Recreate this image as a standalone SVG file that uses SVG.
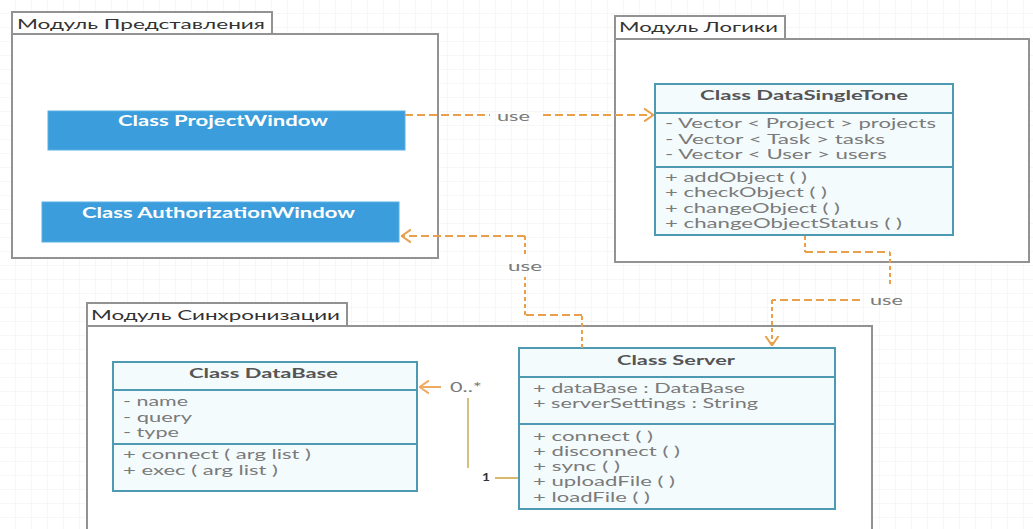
<svg xmlns="http://www.w3.org/2000/svg" width="1033" height="529" viewBox="0 0 1033 529">
<defs>
<pattern id="grid" width="16" height="14" patternUnits="userSpaceOnUse">
<path d="M16,0 V14 M0,14 H16" fill="none" stroke="#efefef" stroke-width="1"/>
</pattern>
<marker id="open" viewBox="0 0 10 14" refX="10" refY="7" markerWidth="10" markerHeight="14" markerUnits="userSpaceOnUse" orient="auto">
<path d="M0,0.5 L9.5,7 L0,13.5" fill="none" stroke="#e8a04a" stroke-width="2"/>
</marker>
<marker id="openAssoc" viewBox="0 0 10 14" refX="10" refY="7" markerWidth="10" markerHeight="14" markerUnits="userSpaceOnUse" orient="auto">
<path d="M0,0.5 L9.5,7 L0,13.5" fill="none" stroke="#efaa62" stroke-width="2"/>
</marker>
</defs>
<style>
.mod{fill:#ffffff;stroke:#929292;stroke-width:2}
.modt{font-family:Lato,"Open Sans","Noto Sans",sans-serif;font-size:14px;fill:#333333}
.blue{fill:#3b9ddb;stroke:#5ab0e4;stroke-width:1}
.bt{font-family:Lato,"Open Sans",sans-serif;font-size:15px;font-weight:bold;fill:#ffffff}
.cls{fill:#f4fbfd;stroke:#4f9ab3;stroke-width:2}
.sep{stroke:#4f9ab3;stroke-width:2}
.ct{font-family:Lato,"Open Sans",sans-serif;font-size:13px;font-weight:bold;fill:#555555}
.at{font-family:Lato,"Open Sans",sans-serif;font-size:13px;fill:#7a7a7a}
.dh{fill:none;stroke:#e8a04a;stroke-width:2;stroke-dasharray:8 4}
.dv{fill:none;stroke:#e8a04a;stroke-width:2;stroke-dasharray:4 3}
.lbl{font-family:Lato,"Open Sans",sans-serif;font-size:13px;fill:#7a7a7a}
.bg{fill:#ffffff}
</style>
<rect x="0" y="0" width="1033" height="529" fill="#ffffff"/>
<rect x="0" y="0" width="1033" height="529" fill="url(#grid)"/>

<g id="module-presentation">
<rect class="mod" x="12" y="34" width="426" height="224"/>
<rect class="mod" x="12" y="12" width="260" height="22"/>
<text class="modt" x="17" y="29" textLength="248" lengthAdjust="spacingAndGlyphs">Модуль Представления</text>
</g>
<g id="module-logic">
<rect class="mod" x="615" y="39" width="414" height="223"/>
<rect class="mod" x="615" y="16" width="170" height="23"/>
<text class="modt" x="619" y="32" textLength="159" lengthAdjust="spacingAndGlyphs">Модуль Логики</text>
</g>
<g id="module-sync">
<rect class="mod" x="87" y="326" width="785" height="220"/>
<rect class="mod" x="87" y="303" width="260" height="23"/>
<text class="modt" x="91" y="320" textLength="249" lengthAdjust="spacingAndGlyphs">Модуль Синхронизации</text>
</g>

<g id="class-projectwindow">
<rect class="blue" x="48" y="111" width="357" height="39"/>
<text class="bt" x="118" y="126" textLength="210" lengthAdjust="spacingAndGlyphs">Class ProjectWindow</text>
</g>
<g id="class-authorizationwindow">
<rect class="blue" x="42" y="202" width="357" height="40"/>
<text class="bt" x="82" y="218" textLength="273" lengthAdjust="spacingAndGlyphs">Class AuthorizationWindow</text>
</g>

<g id="class-datasingletone">
<rect class="cls" x="655" y="84" width="298" height="151"/>
<line class="sep" x1="655" y1="113" x2="953" y2="113"/>
<line class="sep" x1="655" y1="167" x2="953" y2="167"/>
<text class="ct" x="700" y="100" textLength="208" lengthAdjust="spacingAndGlyphs">Class DataSingleTone</text>
<text class="at" x="665" y="128" textLength="271" lengthAdjust="spacingAndGlyphs">- Vector &lt; Project &gt; projects</text>
<text class="at" x="665" y="143.5" textLength="220" lengthAdjust="spacingAndGlyphs">- Vector &lt; Task &gt; tasks</text>
<text class="at" x="665" y="159" textLength="222" lengthAdjust="spacingAndGlyphs">- Vector &lt; User &gt; users</text>
<text class="at" x="665" y="182" textLength="142" lengthAdjust="spacingAndGlyphs">+ addObject ( )</text>
<text class="at" x="665" y="197" textLength="162" lengthAdjust="spacingAndGlyphs">+ checkObject ( )</text>
<text class="at" x="665" y="212.5" textLength="175" lengthAdjust="spacingAndGlyphs">+ changeObject ( )</text>
<text class="at" x="665" y="228" textLength="237" lengthAdjust="spacingAndGlyphs">+ changeObjectStatus ( )</text>
</g>

<g id="class-server">
<rect class="cls" x="519" y="348" width="316" height="161"/>
<line class="sep" x1="519" y1="377" x2="835" y2="377"/>
<line class="sep" x1="519" y1="424" x2="835" y2="424"/>
<text class="ct" x="617" y="364.5" textLength="118" lengthAdjust="spacingAndGlyphs">Class Server</text>
<text class="at" x="533" y="392.5" textLength="212" lengthAdjust="spacingAndGlyphs">+ dataBase : DataBase</text>
<text class="at" x="533" y="407.5" textLength="225" lengthAdjust="spacingAndGlyphs">+ serverSettings : String</text>
<text class="at" x="533" y="440.5" textLength="120" lengthAdjust="spacingAndGlyphs">+ connect (  )</text>
<text class="at" x="533" y="455.5" textLength="147" lengthAdjust="spacingAndGlyphs">+ disconnect (  )</text>
<text class="at" x="533" y="471" textLength="87" lengthAdjust="spacingAndGlyphs">+ sync (  )</text>
<text class="at" x="533" y="486" textLength="142" lengthAdjust="spacingAndGlyphs">+ uploadFile (  )</text>
<text class="at" x="533" y="501.5" textLength="117" lengthAdjust="spacingAndGlyphs">+ loadFile (  )</text>
</g>

<g id="class-database">
<rect class="cls" x="113" y="362" width="304" height="129"/>
<line class="sep" x1="113" y1="390" x2="417" y2="390"/>
<line class="sep" x1="113" y1="444" x2="417" y2="444"/>
<text class="ct" x="189" y="377.5" textLength="149" lengthAdjust="spacingAndGlyphs">Class DataBase</text>
<text class="at" x="123" y="406" textLength="65" lengthAdjust="spacingAndGlyphs">- name</text>
<text class="at" x="123" y="421.5" textLength="69" lengthAdjust="spacingAndGlyphs">- query</text>
<text class="at" x="123" y="437" textLength="56" lengthAdjust="spacingAndGlyphs">- type</text>
<text class="at" x="123" y="459" textLength="188" lengthAdjust="spacingAndGlyphs">+ connect ( arg list )</text>
<text class="at" x="123" y="474.5" textLength="155" lengthAdjust="spacingAndGlyphs">+ exec ( arg list )</text>
</g>

<g id="connectors">
<g id="use-project-datasingletone">
<path class="dh" d="M405,115 H490"/>
<path class="dh" d="M543,115 H654" marker-end="url(#open)"/>
<text class="lbl" x="497" y="120.5" textLength="33" lengthAdjust="spacingAndGlyphs">use</text>
</g>
<g id="use-server-authorization">
<path class="dv" d="M582,348 V315"/>
<path class="dh" d="M582,315 H525"/>
<path class="dv" d="M525,315 V277"/>
<path class="dv" d="M525,254 V236"/>
<path class="dh" d="M525,236 H401" marker-end="url(#open)"/>
<text class="lbl" x="508" y="270.5" textLength="34" lengthAdjust="spacingAndGlyphs">use</text>
</g>
<g id="use-datasingletone-server">
<path class="dv" d="M805,236 V252"/>
<path class="dh" d="M805,252 H890"/>
<path class="dv" d="M890,252 V284"/>
<path class="dh" d="M860,300 H772"/>
<path class="dv" d="M772,300 V346" marker-end="url(#open)"/>
<text class="lbl" x="870" y="304.5" textLength="33" lengthAdjust="spacingAndGlyphs">use</text>
</g>
<g id="assoc-server-database">
<path d="M518,478 H495" fill="none" stroke="#d8b86a" stroke-width="2"/>
<path d="M468,468 V398" fill="none" stroke="#d4c07a" stroke-width="2"/>
<path d="M441,387 H419" fill="none" stroke="#efaa62" stroke-width="2" marker-end="url(#openAssoc)"/>
<text class="lbl" x="450" y="392" textLength="32" lengthAdjust="spacingAndGlyphs" font-size="12">0..*</text>
<text x="482" y="481" textLength="8" lengthAdjust="spacingAndGlyphs" font-family="Lato,'Open Sans',sans-serif" font-size="12" font-weight="bold" fill="#333333">1</text>
</g>
</g>
</svg>
